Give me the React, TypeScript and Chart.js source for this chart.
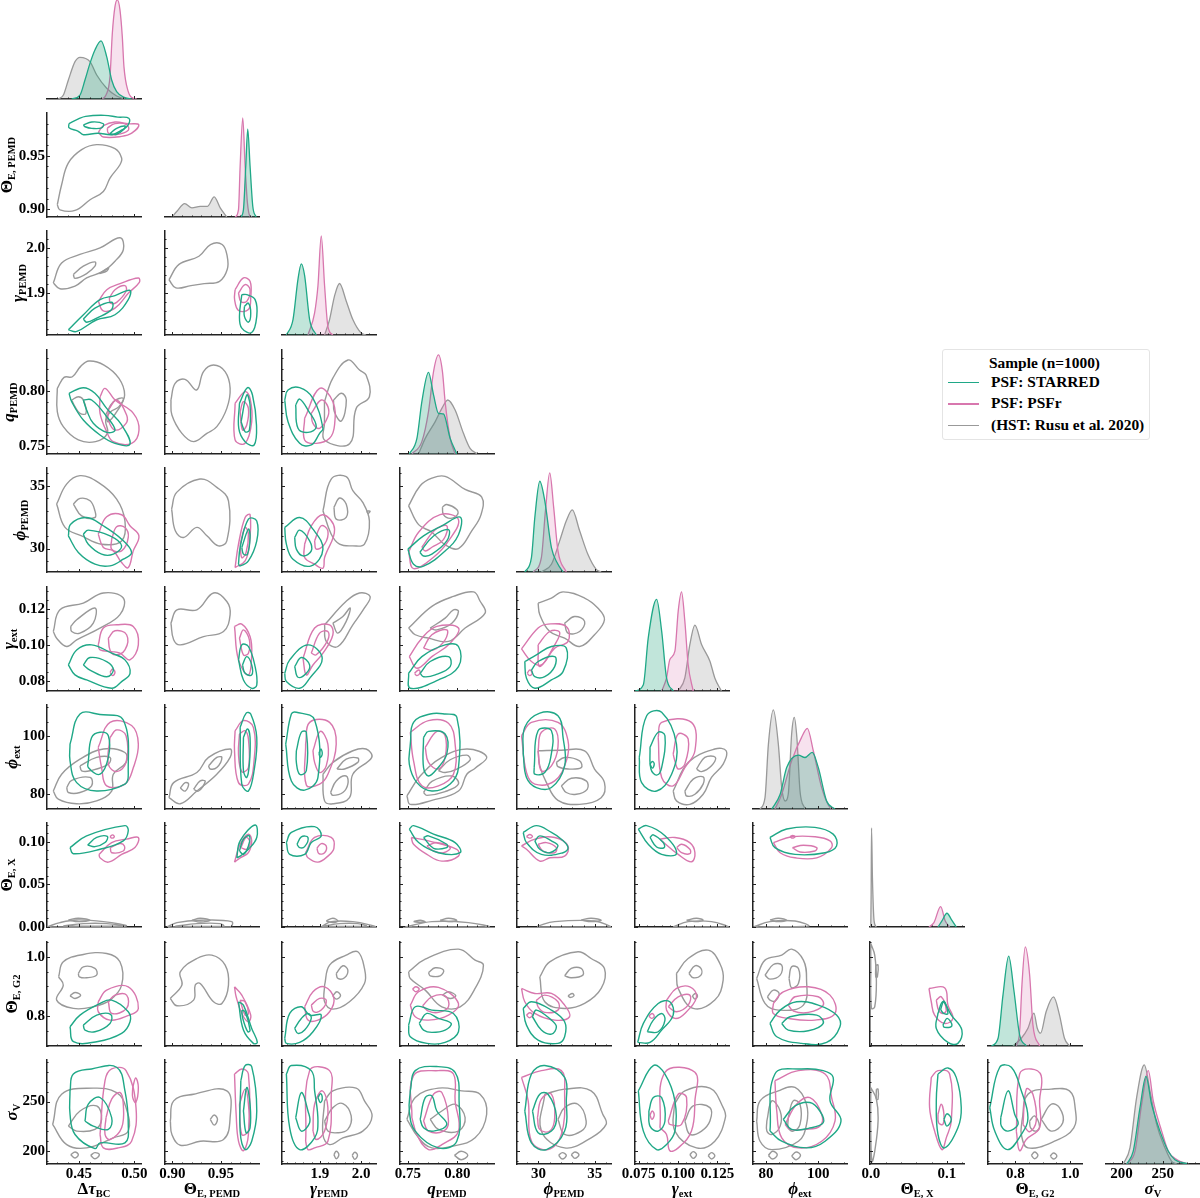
import React, { useEffect, useRef } from "react";
import { Chart, registerables } from "chart.js";

Chart.register(...registerables);

// ---- axes (one entry per variable) ----
const xMin = [0.4211, 0.8925, 1.808, 0.742, 28.1, 0.0727, 75, -0.001, 0.7004, 181];
const xMax = [0.506, 0.9892, 2.036, 0.837, 36.43, 0.1323, 111, 0.1225, 1.043, 295.5];
const yMin = [0, 0.8929, 1.8076, 0.7427, 28.13, 0.0745, 74.8, 0, 0.699, 187.2];
const yMax = [1, 0.9898, 2.038, 0.8373, 36.41, 0.132, 110.7, 0.1222, 1.05, 291.8];
const xTickLabels = [["0.45", "0.50"], ["0.90", "0.95"], ["1.9", "2.0"], ["0.75", "0.80"], ["30", "35"], ["0.075", "0.100", "0.125"], ["80", "100"], ["0.0", "0.1"], ["0.8", "1.0"], ["200", "250"]];
const yTickLabels = [[], ["0.90", "0.95"], ["1.9", "2.0"], ["0.75", "0.80"], ["30", "35"], ["0.08", "0.10", "0.12"], ["80", "100"], ["0.00", "0.05", "0.10"], ["0.8", "1.0"], ["200", "250"]];
const xMinor = [[0.43, 0.44, 0.46, 0.47, 0.48, 0.49], [0.91, 0.92, 0.93, 0.94, 0.96, 0.97, 0.98], [1.82, 1.84, 1.86, 1.88, 1.92, 1.94, 1.96, 1.98, 2.02], [0.76, 0.77, 0.78, 0.79, 0.81, 0.82, 0.83], [29, 31, 32, 33, 34, 36], [0.08, 0.085, 0.09, 0.095, 0.105, 0.11, 0.115, 0.12, 0.13], [85, 90, 95, 105, 110], [0.02, 0.04, 0.06, 0.08, 0.12], [0.75, 0.85, 0.9, 0.95], [190, 210, 220, 230, 240, 260, 270, 280, 290]];
const yMinor = [[], [0.91, 0.92, 0.93, 0.94, 0.96, 0.97, 0.98], [1.82, 1.84, 1.86, 1.88, 1.92, 1.94, 1.96, 1.98, 2.02], [0.76, 0.77, 0.78, 0.79, 0.81, 0.82, 0.83], [29, 31, 32, 33, 34, 36], [0.075, 0.085, 0.09, 0.095, 0.105, 0.11, 0.115, 0.125, 0.13], [75, 85, 90, 95, 105, 110], [0.01, 0.02, 0.03, 0.04, 0.06, 0.07, 0.08, 0.09, 0.11, 0.12], [0.7, 0.75, 0.85, 0.9, 0.95, 1.05], [190, 210, 220, 230, 240, 260, 270, 280, 290]];
const axisNames = [["Δ", "τ", "BC"], ["Θ", "", "E, PEMD"], ["", "γ", "PEMD"], ["", "q", "PEMD"], ["", "ϕ", "PEMD"], ["", "γ", "ext"], ["", "ϕ", "ext"], ["Θ", "", "E, X"], ["Θ", "", "E, G2"], ["", "σ", "V"]];
const legendTitle = "Sample (n=1000)";
const legendLabels = ["PSF: STARRED", "PSF: PSFr", "(HST: Rusu et al. 2020)"];

// ---- diagonal densities (x, relative height) ----
const d0Green = [0.4434,0, 0.4509,0.04, 0.4554,0.192, 0.4599,0.36, 0.4644,0.495, 0.4699,0.586, 0.475,0.428, 0.4795,0.192, 0.484,0.074, 0.4915,0.013, 0.4976,0];
const d0Pink = [0.4705,0, 0.4744,0.04, 0.478,0.226, 0.4801,0.663, 0.4825,0.933, 0.4846,1, 0.487,0.9, 0.4891,0.63, 0.4906,0.327, 0.4945,0.074, 0.4991,0.007, 0.5021,0];
const d0Gray = [0.4313,0, 0.4359,0.04, 0.4404,0.192, 0.4464,0.377, 0.4509,0.421, 0.4599,0.377, 0.466,0.242, 0.475,0.108, 0.484,0.03, 0.4915,0];
const d1Green = [0.9705,0, 0.9732,0.075, 0.9756,0.515, 0.9776,0.888, 0.98,0.515, 0.9828,0.108, 0.9862,0];
const d1Pink = [0.9646,0, 0.9681,0.075, 0.9698,0.515, 0.9725,1, 0.9749,0.515, 0.9773,0.142, 0.98,0.007, 0.982,0];
const d1Gray = [0.8997,0, 0.9048,0.058, 0.9127,0.136, 0.9202,0.092, 0.9287,0.108, 0.9363,0.108, 0.9431,0.203, 0.9493,0.092, 0.9561,0];
const d2Green = [1.8186,0, 1.8347,0.156, 1.8468,0.565, 1.8549,0.718, 1.8629,0.599, 1.875,0.156, 1.8911,0];
const d2Pink = [1.871,0, 1.8871,0.224, 1.8952,0.497, 1.9032,1, 1.9113,0.497, 1.9193,0.088, 1.9314,0];
const d2Gray = [1.9113,0, 1.9234,0.156, 1.9355,0.395, 1.9476,0.52, 1.9637,0.344, 1.9798,0.156, 2.0,0.02, 2.012,0];
const d3Green = [0.7513,0, 0.7591,0.158, 0.7641,0.529, 0.7708,0.825, 0.7759,0.596, 0.7809,0.411, 0.7859,0.404, 0.7927,0.158, 0.7994,0];
const d3Pink = [0.754,0, 0.7641,0.125, 0.7708,0.428, 0.7759,0.832, 0.7809,1, 0.7849,0.832, 0.7876,0.529, 0.7927,0.158, 0.7977,0];
const d3Gray = [0.7608,0, 0.7675,0.158, 0.7776,0.327, 0.7843,0.461, 0.7903,0.545, 0.7977,0.444, 0.8061,0.209, 0.8128,0.057, 0.8206,0];
const d4Green = [28.79,0, 29.38,0.145, 29.68,0.551, 30.12,0.916, 30.56,0.72, 31.15,0.247, 31.73,0.078, 32.18,0];
const d4Pink = [29.53,0, 30.26,0.145, 30.62,0.618, 31,1, 31.35,0.652, 31.73,0.213, 32.47,0];
const d4Gray = [30.26,0, 31.15,0.078, 31.88,0.314, 32.47,0.517, 33,0.628, 33.65,0.416, 34.38,0.179, 35.12,0.027, 35.56,0];
const d5Green = [0.0727,0, 0.078,0.064, 0.0811,0.537, 0.0864,0.926, 0.0896,0.605, 0.0927,0.132, 0.097,0];
const d5Pink = [0.0896,0, 0.0927,0.132, 0.0948,0.318, 0.098,0.402, 0.1001,0.807, 0.1022,1, 0.1043,0.706, 0.1064,0.267, 0.1096,0];
const d5Gray = [0.1001,0, 0.1043,0.132, 0.1075,0.47, 0.1107,0.666, 0.1149,0.47, 0.1202,0.301, 0.1233,0.132, 0.1275,0];
const d6Green = [82.2,0, 85.4,0.149, 87.9,0.419, 92.4,0.544, 94.9,0.52, 97.7,0.571, 100,0.419, 103.2,0.081, 106.4,0];
const d6Pink = [83.4,0, 86,0.149, 89.8,0.486, 93.6,0.723, 95.8,0.814, 98.1,0.588, 101.3,0.216, 104.5,0.014, 105.7,0];
const d6Gray = [77.7,0, 79.6,0.115, 80.9,0.655, 82.8,1, 84.7,0.655, 86,0.216, 87.3,0.081, 88.5,0.149, 89.8,0.757, 90.8,0.926, 91.8,0.723, 93,0.182, 94.9,0];
const d7Green = [0.0883,0, 0.0935,0.061, 0.1001,0.139, 0.1058,0.078, 0.1123,0];
const d7Pink = [0.0765,0, 0.083,0.044, 0.0918,0.206, 0.0979,0.061, 0.1036,0];
const d7Gray = [0,0, 0.0005,0.33, 0.001,1, 0.0022,0.5, 0.0044,0.06, 0.0074,0];
const d8Green = [0.7129,0, 0.7371,0.078, 0.7552,0.519, 0.7758,0.908, 0.7952,0.553, 0.8157,0.112, 0.84,0];
const d8Pink = [0.8036,0, 0.8157,0.146, 0.8242,0.62, 0.8363,1, 0.852,0.722, 0.8641,0.214, 0.8883,0];
const d8Gray = [0.7915,0, 0.8218,0.078, 0.846,0.18, 0.8678,0.332, 0.88,0.18, 0.892,0.129, 0.9125,0.349, 0.9392,0.495, 0.9608,0.315, 0.9791,0.078, 0.9972,0];
const d9Green = [206.1,0, 214.2,0.129, 222.4,0.569, 229.7,0.885, 236.6,0.603, 246.7,0.332, 256.9,0.129, 265,0.044, 281.3,0];
const d9Pink = [206.1,0, 216.3,0.129, 224.4,0.603, 232.5,0.942, 238.6,0.637, 248.8,0.332, 256.9,0.129, 267.1,0.044, 281.3,0];
const d9Gray = [202,0, 210.2,0.163, 218.3,0.671, 227.6,1, 234.6,0.739, 242.7,0.4, 252.8,0.163, 261,0.027, 267.1,0];

// ---- contours (x, y, x, y, ...), one list per closed level line ----
const r1c0Green = [[0.441,0.98, 0.449,0.984, 0.456,0.9867, 0.473,0.9876, 0.485,0.986, 0.495,0.9849, 0.494,0.978, 0.488,0.9736, 0.48,0.9696, 0.467,0.971, 0.454,0.9696, 0.449,0.973, 0.441,0.976], [0.454,0.9786, 0.4616,0.9814, 0.472,0.9798, 0.4705,0.976, 0.4616,0.9755, 0.4555,0.977], [0.478,0.9706, 0.484,0.9755, 0.4915,0.9777, 0.4906,0.9746, 0.484,0.97]];
const r1c0Pink = [[0.4675,0.9718, 0.472,0.9779, 0.4825,0.9814, 0.4945,0.9798, 0.504,0.9789, 0.4976,0.971, 0.4885,0.968, 0.472,0.9674], [0.4756,0.9758, 0.4825,0.9799, 0.493,0.979, 0.4945,0.9737, 0.484,0.9696, 0.4765,0.9711]];
const r1c0Gray = [[0.4304,0.9043, 0.4343,0.9229, 0.4403,0.9431, 0.4524,0.9556, 0.4659,0.9603, 0.4825,0.9565, 0.4885,0.9478, 0.487,0.9416, 0.478,0.9292, 0.472,0.9167, 0.46,0.909, 0.4464,0.899, 0.4328,0.8996]];
const r2c0Green = [[0.4404,1.819, 0.454,1.8525, 0.469,1.886, 0.4825,1.895, 0.496,1.9066, 0.4945,1.886, 0.4825,1.8525, 0.466,1.8414, 0.448,1.8155], [0.4539,1.843, 0.4644,1.867, 0.4795,1.88, 0.4795,1.864, 0.466,1.845, 0.457,1.836]];
const r2c0Pink = [[0.4675,1.882, 0.4751,1.908, 0.4871,1.9215, 0.5036,1.934, 0.5045,1.9244, 0.4945,1.9, 0.4825,1.867, 0.4719,1.861], [0.4774,1.8896, 0.4825,1.908, 0.4915,1.917, 0.4925,1.9044, 0.484,1.88, 0.4784,1.878]];
const r2c0Gray = [[0.4268,1.923, 0.4343,1.967, 0.4508,1.986, 0.469,2.0007, 0.4871,2.023, 0.4901,1.997, 0.4825,1.971, 0.472,1.949, 0.4569,1.934, 0.4464,1.916, 0.4328,1.91], [0.4449,1.9415, 0.4539,1.96, 0.4644,1.9696, 0.4644,1.96, 0.4569,1.9437, 0.4464,1.933], [0.4684,1.9437, 0.4765,1.956, 0.475,1.949]];
const r2c1Green = [[0.9715,1.897, 0.9766,1.897, 0.9852,1.886, 0.9869,1.849, 0.9817,1.813, 0.9715,1.823, 0.9691,1.849], [0.9742,1.871, 0.9783,1.878, 0.9807,1.856, 0.9783,1.836, 0.9742,1.849]];
const r2c1Pink = [[0.9646,1.908, 0.9732,1.934, 0.98,1.9266, 0.9807,1.89, 0.9783,1.864, 0.9681,1.862, 0.9641,1.886], [0.9681,1.9007, 0.9749,1.9192, 0.98,1.908, 0.9766,1.882, 0.9705,1.882]];
const r2c1Gray = [[0.8966,1.93, 0.9069,1.964, 0.9274,1.982, 0.9393,2.008, 0.9513,2.008, 0.9565,1.982, 0.9565,1.9526, 0.9486,1.9266, 0.9328,1.9214, 0.9192,1.917, 0.9037,1.912]];
const r3c0Green = [[0.441,0.7979, 0.4539,0.803, 0.4644,0.7979, 0.475,0.7842, 0.4885,0.7691, 0.496,0.7515, 0.4825,0.7524, 0.469,0.76, 0.4539,0.7736, 0.4434,0.7903], [0.4539,0.7918, 0.4614,0.7918, 0.475,0.7767, 0.4825,0.7645, 0.475,0.7624, 0.4629,0.7706, 0.4569,0.7827]];
const r3c0Pink = [[0.469,0.7948, 0.4735,0.8024, 0.4825,0.7918, 0.4991,0.7797, 0.5042,0.7645, 0.4975,0.7524, 0.481,0.7539, 0.475,0.763, 0.469,0.7797], [0.4765,0.7827, 0.484,0.7918, 0.493,0.7782, 0.4925,0.7706, 0.4825,0.7645, 0.4765,0.7736]];
const r3c0Gray = [[0.4304,0.8024, 0.4365,0.8124, 0.444,0.813, 0.4515,0.8224, 0.459,0.8273, 0.4726,0.8236, 0.4861,0.8115, 0.4912,0.7964, 0.4861,0.7858, 0.4786,0.7812, 0.4741,0.7736, 0.4756,0.7615, 0.465,0.754, 0.4494,0.7555, 0.4358,0.7676, 0.4304,0.7812], [0.4434,0.7918, 0.4494,0.7948, 0.4539,0.7918, 0.4563,0.7797, 0.4509,0.7797, 0.4464,0.7858], [0.4741,0.7782, 0.481,0.7903, 0.49,0.7933, 0.4861,0.7843, 0.4765,0.7721]];
const r3c1Green = [[0.9691,0.7888, 0.9774,0.803, 0.9825,0.7964, 0.9866,0.7691, 0.9842,0.7509, 0.9749,0.7539, 0.9684,0.766], [0.9708,0.7721, 0.9766,0.7964, 0.98,0.7873, 0.9793,0.7645, 0.9749,0.763]];
const r3c1Pink = [[0.9646,0.7888, 0.9749,0.7994, 0.98,0.7933, 0.9817,0.7721, 0.9749,0.7524, 0.9646,0.7555], [0.9698,0.7812, 0.9732,0.7903, 0.9783,0.7842, 0.9766,0.7691, 0.9722,0.7645]];
const r3c1Gray = [[0.8986,0.7918, 0.9029,0.807, 0.9131,0.8106, 0.925,0.8009, 0.9321,0.8176, 0.9424,0.8236, 0.9543,0.8176, 0.9595,0.8024, 0.9561,0.7842, 0.9458,0.7676, 0.9356,0.7615, 0.9219,0.754, 0.9099,0.7615, 0.8996,0.7782]];
const r3c2Green = [[1.8146,0.7918, 1.8226,0.8009, 1.8508,0.803, 1.8831,0.7933, 1.9073,0.7661, 1.8992,0.7615, 1.879,0.7509, 1.8508,0.7524, 1.8226,0.7721], [1.8412,0.7873, 1.8508,0.7927, 1.871,0.7827, 1.8911,0.7676, 1.871,0.7624, 1.8468,0.7661]];
const r3c2Pink = [[1.8629,0.7752, 1.8992,0.8024, 1.9314,0.7903, 1.9355,0.7691, 1.9234,0.757, 1.8911,0.7524, 1.8629,0.7555], [1.879,0.7797, 1.9032,0.7918, 1.9193,0.7858, 1.9193,0.7767, 1.8992,0.7661, 1.8831,0.7706]];
const r3c2Gray = [[1.911,0.7903, 1.931,0.8115, 1.968,0.8282, 1.996,0.8191, 2.012,0.8145, 2.02,0.7948, 1.988,0.7842, 1.972,0.7521, 1.911,0.7555, 1.911,0.7706], [1.933,0.7918, 1.952,0.7979, 1.964,0.7918, 1.952,0.7727, 1.935,0.7812]];
const r4c0Green = [[0.4404,31.0, 0.4425,31.94, 0.4569,32.47, 0.4719,31.81, 0.4885,30.74, 0.4975,29.68, 0.49,29.15, 0.478,28.62, 0.4644,28.75, 0.4494,29.68], [0.4539,31.14, 0.4584,31.46, 0.478,31.0, 0.4885,30.21, 0.481,29.55, 0.4704,29.55, 0.4584,30.34]];
const r4c0Pink = [[0.4674,31.14, 0.475,32.53, 0.4885,32.69, 0.496,31.81, 0.5041,31.01, 0.499,29.81, 0.4945,28.48, 0.4885,28.88, 0.481,29.81, 0.472,30.08], [0.4795,30.74, 0.484,31.73, 0.4915,31.67, 0.4945,30.88, 0.4885,29.81, 0.4795,29.95]];
const r4c0Gray = [[0.4298,33.54, 0.4388,35.13, 0.4509,35.8, 0.4674,35.27, 0.484,33.94, 0.4915,32.2, 0.4885,30.6, 0.4704,30.34, 0.4524,31.0, 0.4374,31.68], [0.4449,33.54, 0.4509,33.99, 0.46,33.8, 0.4644,33.0, 0.4644,32.47, 0.4524,32.6]];
const r4c1Green = [[0.9681,28.75, 0.9698,30.08, 0.9783,32.34, 0.9869,32.2, 0.9869,30.61, 0.9783,29.01, 0.9698,28.62], [0.9715,30.08, 0.9783,31.54, 0.98,30.88, 0.9773,29.55, 0.9732,29.55]];
const r4c1Pink = [[0.9646,28.48, 0.9681,30.35, 0.9749,32.47, 0.98,32.69, 0.9793,30.34, 0.9749,29.01], [0.9698,30.34, 0.9749,31.67, 0.9783,31.14, 0.9759,29.68, 0.9715,29.28]];
const r4c1Gray = [[0.8993,33.14, 0.9045,34.47, 0.9284,35.53, 0.9458,34.87, 0.9578,33.8, 0.9561,30.61, 0.9475,30.21, 0.9356,31.01, 0.9253,31.68, 0.9116,30.88, 0.9031,31.41]];
const r4c2Green = [[1.8146,31.68, 1.8508,32.47, 1.8831,31.54, 1.9073,29.95, 1.879,28.62, 1.8347,29.15, 1.8186,30.35], [1.8387,30.88, 1.8508,31.46, 1.875,30.61, 1.879,29.81, 1.8589,29.41, 1.8428,29.95]];
const r4c2Pink = [[1.8629,30.34, 1.879,31.81, 1.9073,32.69, 1.9355,31.54, 1.9113,29.28, 1.9073,28.43, 1.8871,28.75, 1.8629,29.28], [1.8871,30.61, 1.9032,31.81, 1.9193,31.41, 1.9113,30.34, 1.8911,29.95]];
const r4c2Gray = [[1.9073,33.0, 1.9274,35.53, 1.9637,35.72, 1.9798,34.6, 2.0039,33.67, 2.02,32.2, 2.008,30.35, 1.9798,30.21, 1.9476,30.35, 1.9274,31.14], [1.9339,33.27, 1.9476,34.02, 1.9637,33.54, 1.9637,32.47, 1.9395,32.34], [2.0136,32.97, 2.0217,32.98, 2.0169,32.8]];
const r4c3Green = [[0.75,29.95, 0.7658,31, 0.7843,31.8, 0.8028,32.5, 0.8011,31.1, 0.7876,29.8, 0.7658,28.6, 0.7557,28.75], [0.7621,29.7, 0.7759,31, 0.791,31.5, 0.7893,30.6, 0.7742,29.55, 0.7658,29.4]];
const r4c3Pink = [[0.7507,29.7, 0.7608,31.3, 0.7826,32.7, 0.8011,32.3, 0.791,30.6, 0.7759,29.3, 0.7557,28.4], [0.7641,30.1, 0.7776,31.5, 0.7893,31.8, 0.7859,30.7, 0.7742,30.1, 0.7675,29.8]];
const r4c3Gray = [[0.7507,33.4, 0.7624,35, 0.7742,35.6, 0.7876,35.74, 0.8078,34.7, 0.8246,34.1, 0.8239,32.7, 0.8145,31.4, 0.8011,30, 0.7876,30.3, 0.7742,31.3, 0.7608,31.9], [0.7849,33.3, 0.7893,33.5, 0.7994,33.1, 0.8001,32.7, 0.7927,32.4, 0.7859,32.7]];
const r5c0Green = [[0.4404,0.0889, 0.4479,0.0972, 0.4614,0.1, 0.4795,0.0954, 0.4915,0.0917, 0.4961,0.0843, 0.4885,0.0797, 0.4795,0.076, 0.4569,0.0806, 0.4464,0.0834], [0.4539,0.0889, 0.4599,0.093, 0.475,0.0908, 0.481,0.0861, 0.475,0.0824, 0.4599,0.0861]];
const r5c0Pink = [[0.4674,0.1, 0.472,0.1093, 0.484,0.1111, 0.499,0.1102, 0.5036,0.1, 0.496,0.0917, 0.487,0.0954, 0.4795,0.0963, 0.469,0.0972], [0.4765,0.1037, 0.4825,0.1078, 0.493,0.1056, 0.4915,0.0972, 0.4825,0.0945, 0.478,0.0972], [0.478,0.0848, 0.4804,0.0867, 0.4825,0.0848, 0.4804,0.083]];
const r5c0Gray = [[0.4268,0.1074, 0.4328,0.1194, 0.4539,0.1231, 0.472,0.1287, 0.49,0.1259, 0.487,0.1167, 0.4689,0.1093, 0.4479,0.1028, 0.4389,0.0991, 0.4298,0.1037], [0.4425,0.1102, 0.4479,0.1139, 0.4644,0.1204, 0.4629,0.112, 0.4509,0.1065, 0.4434,0.1074]];
const r5c1Green = [[0.9681,0.0917, 0.9715,0.1, 0.9783,0.0991, 0.9852,0.088, 0.9869,0.0778, 0.9817,0.076, 0.9732,0.0806], [0.9722,0.0889, 0.9766,0.0935, 0.9817,0.0889, 0.9817,0.0834, 0.9749,0.0843]];
const r5c1Pink = [[0.964,0.1102, 0.9715,0.1115, 0.98,0.1046, 0.9817,0.0945, 0.9783,0.0834, 0.9681,0.0917], [0.9691,0.1037, 0.9732,0.1083, 0.9793,0.1028, 0.9783,0.0954, 0.9732,0.0945]];
const r5c1Gray = [[0.8986,0.112, 0.9048,0.1194, 0.9253,0.1194, 0.9424,0.1287, 0.9561,0.124, 0.9595,0.1167, 0.9527,0.1074, 0.9321,0.1046, 0.9082,0.1, 0.9014,0.1028]];
const r5c2Green = [[1.8146,0.0843, 1.8267,0.0917, 1.871,0.1, 1.9056,0.0926, 1.875,0.0815, 1.8508,0.076, 1.8186,0.0797], [1.8387,0.088, 1.8548,0.093, 1.875,0.0889, 1.867,0.0843, 1.8468,0.0821]];
const r5c2Pink = [[1.8589,0.0926, 1.8871,0.1093, 1.9234,0.1111, 1.9314,0.1056, 1.9073,0.0954, 1.8831,0.0889, 1.867,0.0834], [1.879,0.0954, 1.8992,0.1065, 1.9193,0.1074, 1.9193,0.1028, 1.8911,0.0945]];
const r5c2Gray = [[1.9113,0.1111, 1.9637,0.1241, 1.9959,0.1287, 2.0217,0.1268, 2.008,0.1204, 1.9798,0.1111, 1.9435,0.0991, 1.9153,0.1019], [1.9314,0.112, 1.9556,0.1157, 1.9733,0.1204, 1.9637,0.113, 1.9435,0.1065]];
const r5c3Green = [[0.7507,0.0843, 0.7641,0.0935, 0.7876,0.1, 0.8011,0.0991, 0.8011,0.088, 0.7809,0.0806, 0.7524,0.076], [0.7624,0.0843, 0.7725,0.0908, 0.791,0.0935, 0.7927,0.088, 0.7776,0.0834, 0.7658,0.0824]];
const r5c3Pink = [[0.7514,0.0935, 0.7641,0.1037, 0.7792,0.1102, 0.8011,0.1093, 0.7927,0.1009, 0.7742,0.0935, 0.7591,0.0871], [0.7658,0.0982, 0.7742,0.1056, 0.7893,0.1083, 0.7876,0.1028, 0.7759,0.0972], [0.7567,0.0843, 0.7608,0.0861, 0.7624,0.0848, 0.7591,0.083]];
const r5c3Gray = [[0.7507,0.1093, 0.7742,0.1213, 0.796,0.1268, 0.8163,0.1293, 0.823,0.1241, 0.828,0.1176, 0.8078,0.1093, 0.791,0.1019, 0.7708,0.1037, 0.7574,0.1056], [0.7725,0.1093, 0.7876,0.1148, 0.796,0.1194, 0.8011,0.1185, 0.7944,0.112, 0.7792,0.1083]];
const r5c4Green = [[28.79,0.0908, 29.82,0.0945, 31.15,0.0991, 32.47,0.0982, 32.18,0.0852, 31.15,0.0806, 29.68,0.076, 28.94,0.0815], [29.38,0.0861, 29.97,0.0908, 31.44,0.0935, 31.44,0.088, 30.56,0.0824, 29.68,0.0824]];
const r5c4Pink = [[28.5,0.0978, 29.97,0.1093, 30.85,0.1115, 32.47,0.1102, 32.62,0.1019, 31.44,0.0982, 30.26,0.0889, 29.38,0.0908], [29.97,0.1, 31,0.1074, 31.88,0.107, 31.44,0.1, 30.12,0.088], [29,0.0843, 29.24,0.0861, 29.44,0.0843, 29.24,0.083]];
const r5c4Gray = [[29.97,0.1231, 31.15,0.1259, 32.18,0.1293, 34.09,0.1259, 35.26,0.1204, 35.85,0.1139, 34.97,0.1056, 33.65,0.0991, 32.32,0.1037, 31,0.1074, 30.12,0.1167], [32.32,0.112, 33.2,0.1157, 34.09,0.113, 33.65,0.1074, 32.62,0.1065]];
const r6c0Green = [[0.4419,97.2, 0.4509,107.6, 0.4689,107.4, 0.49,105.5, 0.4945,86.8, 0.4915,83.4, 0.4659,81, 0.4479,83.9, 0.4419,91.4], [0.4584,91.4, 0.4614,99.5, 0.469,101.3, 0.4765,100.1, 0.4765,92.6, 0.469,86.8, 0.4584,89.1]];
const r6c0Pink = [[0.4674,96.1, 0.478,104.7, 0.4975,103.6, 0.5036,97.2, 0.4991,89.1, 0.4915,83.4, 0.475,82.8, 0.4704,89.1], [0.478,99.5, 0.484,102.1, 0.4925,100.1, 0.4925,90.9, 0.484,87.7, 0.4765,90.3]];
const r6c0Gray = [[0.4268,81, 0.4343,86.8, 0.4509,92, 0.472,95.5, 0.4915,94.3, 0.4925,90.9, 0.481,86.8, 0.4795,81, 0.4659,77.6, 0.4479,76.6, 0.4313,78.2], [0.4389,82.2, 0.4434,84.7, 0.46,85.7, 0.4614,82.8, 0.4509,80.5, 0.4404,80.5], [0.4509,89.7, 0.4659,92.6, 0.478,92.6, 0.4765,90.3, 0.4599,88, 0.4524,88]];
const r6c1Green = [[0.9698,103, 0.976,107.9, 0.9807,107.6, 0.9869,99.5, 0.9841,88, 0.9783,81, 0.9715,83.4], [0.9732,99.5, 0.9773,102.4, 0.98,99.5, 0.9793,90.3, 0.9766,85.7, 0.9732,88]];
const r6c1Pink = [[0.9646,101.8, 0.9732,105.3, 0.9834,103, 0.9841,91.4, 0.9783,83.4, 0.9681,83.9, 0.964,94.9], [0.9691,100.7, 0.9749,101.8, 0.9783,99, 0.9783,89.1, 0.9715,87.7, 0.9681,93.8]];
const r6c1Gray = [[0.8966,78.7, 0.9014,83.9, 0.9253,87.4, 0.9373,92.6, 0.9595,95.5, 0.9595,92.6, 0.9458,86.8, 0.9253,81, 0.9082,76.6], [0.9082,82, 0.9133,83.9, 0.9168,83.4, 0.9133,81], [0.9219,81.6, 0.9287,84.5, 0.9339,84.3, 0.927,81], [0.9373,89.7, 0.9458,92.6, 0.951,92.6, 0.9458,89.1, 0.939,88.6]];
const r6c2Green = [[1.817,97.2, 1.8307,107.6, 1.8428,108.2, 1.8871,105.5, 1.8952,85.7, 1.8629,81.3, 1.8307,84.5], [1.8428,94.9, 1.8549,101.3, 1.867,101.3, 1.867,88, 1.8508,86.8, 1.8428,90.9], [1.8976,94, 1.9024,95.5, 1.9056,93.8, 1.9008,92.6]];
const r6c2Pink = [[1.8653,97.2, 1.875,104.7, 1.9234,104.7, 1.9395,97.2, 1.9193,86.8, 1.8992,83.4, 1.867,83.1], [1.8831,94.9, 1.9008,101.6, 1.9193,97.2, 1.9153,89.7, 1.8992,87.4, 1.8871,90.9]];
const r6c2Gray = [[1.9073,86.8, 1.9314,90.9, 1.9798,94.9, 2.012,95.5, 2.0257,92.6, 1.9798,86.8, 1.9717,78.7, 1.9314,76.6, 1.9113,77.6], [1.9411,88.6, 1.9637,92, 1.9919,92.4, 1.9919,90.9, 1.9596,88.6], [1.9258,80.5, 1.9395,84.5, 1.9637,86.2, 1.9677,83.4, 1.9556,80.5, 1.9314,79.5]];
const r6c3Green = [[0.7524,97.2, 0.7557,104.7, 0.7725,107.6, 0.7876,107.6, 0.7994,106.5, 0.8011,89.1, 0.7927,83.4, 0.7742,81, 0.7591,83.9, 0.7514,90.3], [0.7658,99.5, 0.7708,101.6, 0.7876,100.7, 0.7893,93.8, 0.7792,88.6, 0.7708,86.2, 0.7658,89.1]];
const r6c3Pink = [[0.7524,101.3, 0.7708,105.3, 0.791,104.4, 0.7977,97.2, 0.796,86.8, 0.7809,82.8, 0.7641,82.8, 0.7557,91.4], [0.7675,96.1, 0.7792,101.6, 0.7876,100.1, 0.7876,92.6, 0.7809,88.6, 0.7708,90.9]];
const r6c3Gray = [[0.749,79.3, 0.7624,86.2, 0.7843,92.6, 0.8095,95.5, 0.8296,92.8, 0.8179,88.9, 0.8095,86.8, 0.8011,81, 0.7742,77.8, 0.7524,76.4], [0.7809,88, 0.7927,91.8, 0.8095,93.4, 0.8128,91.7, 0.7994,88.6, 0.7876,87.4], [0.7658,80.5, 0.7742,84.3, 0.7944,86.2, 0.8011,83.4, 0.7876,80.8, 0.7692,79.5]];
const r6c4Green = [[28.65,93.8, 28.79,103, 30.12,107.9, 31.73,107, 32.18,99.5, 32.32,89.7, 31.15,82.2, 29.82,82.2, 28.94,85.7], [29.62,89.1, 29.97,101.8, 31.15,101.8, 31.09,92.6, 30.56,87.4, 29.68,86.8]];
const r6c4Pink = [[28.5,100.1, 29.38,104.7, 31.73,104.7, 32.62,98.4, 32.47,91.4, 31.44,84.5, 29.68,83.4, 28.94,87.4], [29.97,94.9, 30.26,101.3, 31.44,102.4, 31.73,96.1, 31.15,89.7, 30.26,88]];
const r6c4Gray = [[29.97,94.9, 32.03,95.1, 34.09,94.9, 34.97,88.6, 35.85,83.9, 35.56,78.7, 33.65,76.4, 31.73,77.8, 30.71,83.9, 30.12,89.7], [31.59,90.9, 32.32,92.6, 33.65,91.4, 33.79,89.1, 32.62,88.6, 31.73,89.4], [32.03,82.8, 32.91,85.4, 34.23,84.5, 34.32,81.6, 33.35,79.9, 32.47,80.5]];
const r6c5Green = [[0.0754,92.6, 0.0801,107, 0.0896,108.2, 0.099,97.2, 0.0959,86.8, 0.0864,81, 0.0769,83.9], [0.0822,96.1, 0.0874,101.3, 0.0917,100.1, 0.0896,89.1, 0.0864,86.5, 0.0828,88.6], [0.0822,90.3, 0.0837,91.2, 0.0849,90.3, 0.0837,88.9]];
const r6c5Pink = [[0.0874,99.5, 0.0896,104.7, 0.1085,104.7, 0.1107,94.9, 0.1043,89.1, 0.0969,82.8, 0.0896,85.7], [0.0969,93.8, 0.1001,100.7, 0.1064,99, 0.1043,90.3, 0.1001,88.6, 0.098,91.4]];
const r6c5Gray = [[0.0969,81, 0.1065,90.9, 0.1233,95.5, 0.1305,94.9, 0.1286,90.3, 0.1212,85.7, 0.1159,79.9, 0.1075,76.4, 0.099,77.6], [0.1117,88.6, 0.117,92.6, 0.1237,92.6, 0.1212,89.7, 0.1149,87.7], [0.1043,81, 0.1096,85.1, 0.1159,85.9, 0.1159,83.4, 0.1107,79.9, 0.1054,79.3]];
const r7c0Green = [[0.4419,0.0933, 0.4569,0.1071, 0.4915,0.1191, 0.4945,0.1131, 0.49,0.1012, 0.469,0.0913, 0.4449,0.0861], [0.4578,0.0964, 0.466,0.1052, 0.4756,0.1064, 0.4735,0.0992, 0.4644,0.0944]];
const r7c0Pink = [[0.4681,0.0853, 0.4795,0.0992, 0.493,0.1032, 0.5036,0.1052, 0.5005,0.0933, 0.4885,0.0853, 0.4765,0.0762, 0.469,0.0813], [0.4783,0.0933, 0.487,0.098, 0.491,0.0952, 0.49,0.0893, 0.4795,0.0873], [0.478,0.1064, 0.4804,0.1083, 0.4819,0.106, 0.4795,0.1044]];
const r7c0Gray = [[0.421,0, 0.4328,0.0052, 0.4479,0.0083, 0.472,0.0063, 0.4925,0.0012, 0.4509,0.0002, 0.4238,0.0001], [0.4404,0.0083, 0.4494,0.0103, 0.4599,0.0079, 0.4494,0.0063], [0.4358,0.0012, 0.4539,0.004, 0.475,0.004, 0.49,0.0012]];
const r7c1Green = [[0.9663,0.0813, 0.9698,0.1012, 0.9852,0.1199, 0.9869,0.1052, 0.9783,0.0913, 0.9698,0.0833], [0.9691,0.0893, 0.9732,0.1032, 0.9793,0.1071, 0.9783,0.0952, 0.9732,0.0853]];
const r7c1Pink = [[0.964,0.0762, 0.9698,0.0972, 0.9783,0.1091, 0.9817,0.1012, 0.9783,0.0873, 0.9698,0.0813], [0.9705,0.0933, 0.976,0.1052, 0.98,0.0992, 0.9766,0.0913]];
const r7c1Gray = [[0.8945,0, 0.9048,0.0052, 0.9287,0.0079, 0.9612,0.0063, 0.9595,0], [0.9202,0.0079, 0.9287,0.0103, 0.939,0.0079, 0.9287,0.0059], [0.9031,0.001, 0.9253,0.004, 0.9492,0.004, 0.9527,0.001]];
const r7c2Green = [[1.8186,0.0992, 1.8307,0.1111, 1.8871,0.1179, 1.9032,0.1071, 1.879,0.0992, 1.8629,0.0853, 1.8267,0.0853], [1.8444,0.0972, 1.8549,0.106, 1.871,0.1052, 1.8629,0.0944, 1.8508,0.0933]];
const r7c2Pink = [[1.8653,0.0873, 1.8871,0.1052, 1.9274,0.1052, 1.9339,0.0925, 1.9193,0.0833, 1.8952,0.0762, 1.871,0.0813], [1.8927,0.0925, 1.9032,0.098, 1.9153,0.0952, 1.9113,0.0873, 1.8976,0.0861]];
const r7c2Gray = [[1.9032,0, 1.9274,0.0063, 1.9798,0.0063, 2.0322,0.001, 2.0347,0], [1.9153,0.0071, 1.9314,0.0103, 1.9435,0.0071, 1.9314,0.0052], [1.9073,0.001, 1.9476,0.004, 1.9919,0.004, 2.012,0.001]];
const r7c3Green = [[0.7514,0.1151, 0.7557,0.1191, 0.7759,0.1091, 0.7977,0.0992, 0.8028,0.0873, 0.7809,0.0873, 0.7608,0.0992], [0.7658,0.1052, 0.7708,0.1071, 0.7893,0.0972, 0.7893,0.0933, 0.7759,0.0925]];
const r7c3Pink = [[0.7534,0.1052, 0.7708,0.1012, 0.7994,0.0913, 0.8011,0.0833, 0.7843,0.0774, 0.7692,0.0853, 0.7557,0.0972], [0.7692,0.0952, 0.7792,0.0992, 0.7927,0.0933, 0.786,0.0873, 0.7759,0.0893]];
const r7c3Gray = [[0.7473,0, 0.7742,0.0063, 0.8112,0.0052, 0.8313,0], [0.7826,0.0079, 0.791,0.0103, 0.7994,0.0079, 0.791,0.0063], [0.7557,0.0063, 0.7624,0.0079, 0.7675,0.0063, 0.7624,0.0055]];
const r7c4Green = [[28.65,0.1111, 29.82,0.1191, 31.15,0.1111, 32.03,0.1032, 32.62,0.0933, 32.18,0.0873, 30.26,0.0853, 28.94,0.0992], [29.68,0.1012, 30.12,0.1071, 31.15,0.1012, 31.73,0.0952, 31,0.0873, 30.12,0.0913]];
const r7c4Pink = [[28.5,0.0952, 29.68,0.1032, 31.44,0.1052, 32.62,0.0952, 32.32,0.0833, 31,0.0813, 30.12,0.0774, 28.94,0.0913], [29.97,0.0972, 30.71,0.0992, 31.59,0.0933, 31.44,0.0873, 30.41,0.0893], [28.94,0.1063, 29.24,0.1087, 29.47,0.1063, 29.21,0.1044]];
const r7c4Gray = [[29.91,0.001, 31.44,0.0063, 34.97,0.0071, 36.43,0, 29.97,0], [33.79,0.0083, 34.67,0.0103, 35.56,0.0079, 34.67,0.0063]];
const r7c5Green = [[0.0748,0.1151, 0.0801,0.1191, 0.0917,0.1071, 0.099,0.0861, 0.0896,0.0853, 0.0811,0.0972], [0.0822,0.1052, 0.0843,0.1083, 0.0906,0.0992, 0.0912,0.0933, 0.0864,0.094]];
const r7c5Pink = [[0.0885,0.1032, 0.098,0.1052, 0.1074,0.0992, 0.1107,0.0873, 0.1085,0.0766, 0.1001,0.0853], [0.0991,0.0933, 0.1022,0.0972, 0.1075,0.0913, 0.1075,0.0861, 0.1022,0.0873]];
const r7c5Gray = [[0.0969,0, 0.1064,0.0063, 0.1212,0.0063, 0.1318,0], [0.1054,0.0079, 0.1117,0.0103, 0.1159,0.0079, 0.1107,0.0063]];
const r7c6Green = [[81.5,0.1052, 87.9,0.1151, 98.7,0.1171, 105.7,0.1091, 107,0.0952, 102.6,0.0873, 91.1,0.0853, 83.4,0.0933]];
const r7c6Pink = [[82.8,0.0992, 89.8,0.106, 98.7,0.106, 104.5,0.1012, 105.1,0.0933, 99.4,0.0813, 91.1,0.0813, 85.4,0.0873], [90.1,0.0933, 94.3,0.096, 99.4,0.0933, 98.7,0.0893, 93,0.0881], [89.2,0.106, 90.2,0.1075, 91.1,0.106, 90.1,0.1044]];
const r7c6Gray = [[75.2,0, 81.5,0.0063, 91.1,0.0071, 96.2,0.001, 75.8,0], [81.5,0.0083, 84.7,0.0103, 87.9,0.0079, 84.7,0.0063]];
const r8c0Green = [[0.4419,0.764, 0.4509,0.8033, 0.469,0.8426, 0.4795,0.8539, 0.4945,0.8146, 0.4961,0.7808, 0.4885,0.7415, 0.466,0.7134, 0.445,0.7134], [0.4539,0.7696, 0.466,0.8033, 0.4786,0.8056, 0.478,0.7752, 0.4644,0.7471, 0.4554,0.7527]];
const r8c0Pink = [[0.4674,0.8483, 0.475,0.8876, 0.4945,0.8988, 0.5036,0.8258, 0.493,0.8, 0.478,0.7864, 0.4674,0.8146], [0.4765,0.8483, 0.4825,0.8707, 0.493,0.8707, 0.493,0.8258, 0.4795,0.8089]];
const r8c0Gray = [[0.4316,0.9326, 0.4358,0.9831, 0.4539,1.0079, 0.475,1.0112, 0.487,0.9831, 0.4885,0.9045, 0.478,0.8539, 0.4629,0.8314, 0.4449,0.8258, 0.4298,0.8539, 0.4358,0.9045], [0.4494,0.9438, 0.4539,0.9663, 0.4644,0.9607, 0.4659,0.9382, 0.4569,0.9292, 0.4503,0.9326], [0.4419,0.8685, 0.4464,0.8797, 0.4515,0.8707, 0.4464,0.8595]];
const r8c1Green = [[0.9681,0.8483, 0.9732,0.837, 0.9817,0.7583, 0.9875,0.7111, 0.9834,0.7078, 0.9732,0.7527], [0.9715,0.8202, 0.9749,0.8146, 0.98,0.7527, 0.9776,0.7471, 0.9725,0.7921]];
const r8c1Pink = [[0.964,0.8988, 0.9715,0.8707, 0.9807,0.8033, 0.9783,0.7808, 0.9715,0.8089, 0.9657,0.8651], [0.9698,0.8539, 0.9749,0.8483, 0.9783,0.8089, 0.9749,0.8033]];
const r8c1Gray = [[0.8979,0.8595, 0.9099,0.9045, 0.9082,0.9494, 0.9253,0.9943, 0.9407,1.0056, 0.9544,0.9719, 0.9578,0.9045, 0.951,0.8426, 0.9424,0.8483, 0.9287,0.9101, 0.9236,0.9045, 0.9219,0.8539, 0.9048,0.8348]];
const r8c2Green = [[1.8146,0.7246, 1.8267,0.8089, 1.8549,0.8314, 1.875,0.8033, 1.9032,0.8033, 1.8831,0.7471, 1.8508,0.7111, 1.8186,0.7078], [1.8387,0.7584, 1.8549,0.7921, 1.871,0.8089, 1.879,0.7921, 1.8629,0.7527, 1.8468,0.7415]];
const r8c2Pink = [[1.8629,0.8314, 1.8831,0.882, 1.9113,0.8988, 1.9339,0.8595, 1.9234,0.8146, 1.8952,0.7864, 1.871,0.7864], [1.879,0.837, 1.8992,0.8595, 1.9153,0.8539, 1.9032,0.8202, 1.8847,0.8146]];
const r8c2Gray = [[1.9113,0.9045, 1.9234,0.9719, 1.9637,1.0056, 1.9919,1.0169, 2.008,0.9607, 2.008,0.9101, 1.9717,0.8483, 1.9314,0.8235, 1.9113,0.8483], [1.9395,0.9438, 1.9556,0.9697, 1.9677,0.955, 1.9596,0.9292, 1.9435,0.9269], [1.9314,0.8685, 1.9411,0.882, 1.95,0.8685, 1.9395,0.8573]];
const r8c3Green = [[0.7507,0.7696, 0.7574,0.8314, 0.7742,0.8202, 0.796,0.8089, 0.8011,0.7471, 0.7876,0.7111, 0.7692,0.7078, 0.7524,0.7302], [0.7614,0.7752, 0.7692,0.8089, 0.7809,0.7921, 0.7937,0.7752, 0.7876,0.7527, 0.7742,0.7449, 0.7658,0.7527]];
const r8c3Pink = [[0.7524,0.837, 0.7608,0.882, 0.7809,0.8966, 0.8011,0.8426, 0.791,0.8033, 0.7708,0.7864, 0.7574,0.7977], [0.7648,0.8348, 0.7742,0.8651, 0.7876,0.8685, 0.791,0.8314, 0.7809,0.8123, 0.7708,0.8168], [0.7547,0.891, 0.7581,0.8988, 0.7614,0.891, 0.7581,0.882]];
const r8c3Gray = [[0.7507,0.9494, 0.7675,0.9921, 0.8011,1.0259, 0.8179,0.9888, 0.8263,0.9719, 0.8179,0.8932, 0.8028,0.8314, 0.7843,0.8314, 0.7675,0.8876, 0.7524,0.9269], [0.7708,0.9472, 0.7776,0.9629, 0.786,0.955, 0.7826,0.9359, 0.7725,0.9359], [0.7849,0.8707, 0.791,0.882, 0.7984,0.8685, 0.7927,0.8595]];
const r8c4Green = [[28.65,0.8258, 29.38,0.8483, 31.15,0.8202, 32.32,0.7808, 32.32,0.7302, 31.73,0.7078, 29.97,0.719, 28.94,0.7696], [29.47,0.7977, 29.82,0.8202, 31.15,0.7864, 31.59,0.764, 31.15,0.7392, 30.26,0.7527]];
const r8c4Pink = [[28.5,0.8932, 29.68,0.8764, 31.15,0.8764, 32.32,0.837, 32.76,0.7977, 31.44,0.7864, 29.68,0.8089, 28.79,0.8483], [29.82,0.8539, 30.56,0.8707, 31.73,0.8483, 31.73,0.8202, 30.56,0.8123, 29.97,0.8314], [28.94,0.8033, 29.24,0.8112, 29.47,0.8033, 29.21,0.7943]];
const r8c4Gray = [[30.12,0.9326, 31,0.9831, 33.5,1.0169, 34.67,0.9943, 35.85,0.9607, 35.56,0.8932, 34.09,0.8426, 32.32,0.8258, 30.56,0.8483], [32.32,0.9359, 32.91,0.9607, 33.79,0.9607, 33.94,0.9382, 32.91,0.9292], [32.62,0.8685, 33,0.8764, 33.15,0.8685, 32.8,0.8629]];
const r8c5Green = [[0.0744,0.7111, 0.078,0.7752, 0.0874,0.8426, 0.0948,0.8483, 0.0969,0.8033, 0.0896,0.7527, 0.0822,0.7111], [0.0805,0.7471, 0.0843,0.7864, 0.0896,0.8089, 0.0917,0.7864, 0.0874,0.7471]];
const r8c5Pink = [[0.0927,0.8539, 0.099,0.8932, 0.1075,0.8988, 0.1117,0.8651, 0.1043,0.8089, 0.098,0.7921, 0.0927,0.8202], [0.0938,0.8314, 0.1001,0.8651, 0.1075,0.8707, 0.1064,0.837, 0.099,0.8146], [0.0815,0.8, 0.0836,0.8089, 0.0849,0.7989, 0.0832,0.7921]];
const r8c5Gray = [[0.099,0.9438, 0.1064,0.9944, 0.1191,1.0225, 0.1265,0.9775, 0.1286,0.9214, 0.1233,0.8539, 0.1096,0.8258, 0.1001,0.8932], [0.1069,0.9438, 0.1107,0.9697, 0.1145,0.9607, 0.1145,0.9382, 0.1096,0.9292], [0.109,0.8685, 0.1111,0.8764, 0.1123,0.8674, 0.1107,0.8573]];
const r8c6Green = [[81.5,0.7752, 85.4,0.8202, 91.7,0.8483, 100,0.837, 107,0.8033, 108.3,0.764, 103.2,0.7111, 93.6,0.7078, 84.1,0.7302], [86,0.7752, 89.2,0.7977, 99.4,0.8033, 101.9,0.7752, 96.2,0.7505, 88.5,0.7527]];
const r8c6Pink = [[82.8,0.8426, 86.6,0.882, 96.2,0.8988, 104.5,0.8707, 106.4,0.8089, 98.7,0.7864, 88.5,0.7921, 82.8,0.8089], [88.5,0.837, 91.1,0.8651, 100,0.8651, 101.9,0.837, 96.2,0.8123, 90.5,0.8168]];
const r8c6Gray = [[76.4,0.9269, 79.6,0.9888, 86,1.0056, 89.8,1.0259, 94.3,0.9888, 95.5,0.9269, 94.3,0.837, 84.7,0.8202, 79.6,0.8426], [79.6,0.9382, 82.8,0.9741, 86,0.9719, 85.4,0.9382, 81.5,0.9247], [88.8,0.9269, 89.8,0.9663, 92.4,0.9607, 92.4,0.9101, 89.8,0.8955], [80.5,0.8651, 82.8,0.8876, 85,0.8763, 83.4,0.8505, 81.5,0.8539]];
const r8c7Green = [[0.0883,0.8089, 0.0948,0.8483, 0.1058,0.8033, 0.1197,0.7527, 0.1145,0.7078, 0.1014,0.7111, 0.0861,0.7584], [0.0948,0.7696, 0.1005,0.7921, 0.1066,0.7674, 0.097,0.7617], [0.0918,0.8224, 0.0961,0.8505, 0.1014,0.8089, 0.0957,0.8089]];
const r8c7Pink = [[0.0765,0.8932, 0.097,0.8955, 0.1014,0.837, 0.1079,0.7921, 0.097,0.7752, 0.0839,0.8033, 0.0795,0.8483], [0.0861,0.8539, 0.0926,0.8651, 0.0992,0.8202, 0.0948,0.8089, 0.0891,0.8202]];
const r8c7Gray = [[0,1.045, 0.0052,1.0056, 0.0074,0.9157, 0.0052,0.8314, 0.0009,0.8258, 0,0.9663], [0.0066,0.9719, 0.0096,0.9719, 0.0087,0.9326, 0.0066,0.9326]];
const r9c0Green = [[0.4419,260.8, 0.4449,277.7, 0.4614,282.8, 0.484,284.5, 0.4915,260.8, 0.4945,227, 0.4915,208.4, 0.469,208.4, 0.4644,202.7, 0.4464,216.9, 0.4419,237.2], [0.4554,230.4, 0.4584,247.3, 0.469,254.1, 0.4795,233.8, 0.4765,222, 0.4629,225.3]];
const r9c0Pink = [[0.469,216.9, 0.4735,271, 0.4795,282.8, 0.4925,281.1, 0.5015,243.9, 0.4975,210.1, 0.4855,203.4, 0.472,203.4], [0.4744,233.8, 0.4795,252.4, 0.487,259.1, 0.49,247.3, 0.4885,223.6, 0.478,211.8, 0.4735,216.9], [0.4985,264.2, 0.5012,273.7, 0.5036,264.2, 0.5012,249, 0.4985,254.1]];
const r9c0Gray = [[0.4262,227, 0.4343,257.4, 0.4629,263.5, 0.484,259, 0.4925,243.9, 0.4945,220.3, 0.481,213.5, 0.4569,203.4, 0.4389,206.7], [0.4404,225.3, 0.4509,240.5, 0.4659,245.6, 0.4704,232.1, 0.4644,222, 0.4479,220.3], [0.4425,196.6, 0.4464,199.3, 0.4494,196.6, 0.4464,193.2], [0.4605,195.9, 0.4644,198.6, 0.4684,196.6, 0.4644,192.5]];
const r9c1Green = [[0.9705,271, 0.9749,286.2, 0.9817,285.2, 0.9869,240.5, 0.9817,210.1, 0.9749,201.7, 0.9698,220.3], [0.9732,240.5, 0.9766,264.2, 0.98,247.3, 0.98,223.6, 0.9759,218.6]];
const r9c1Pink = [[0.964,277.7, 0.9715,282.8, 0.9783,277.7, 0.9783,216.9, 0.9732,200.6, 0.9681,210.1, 0.9657,237.2], [0.9691,247.3, 0.9749,262.5, 0.9783,247.3, 0.9783,220.3, 0.9715,216.9]];
const r9c1Gray = [[0.898,230.4, 0.9014,250.7, 0.9219,257.4, 0.9561,260.8, 0.9595,233.8, 0.9527,211.8, 0.9287,210.1, 0.9082,206.1, 0.8996,216.9], [0.939,232.1, 0.9431,236.5, 0.9465,232.1, 0.9431,226.3]];
const r9c2Green = [[1.8186,277.7, 1.8307,286.2, 1.879,281.1, 1.8871,260.8, 1.8952,230.4, 1.8871,213.5, 1.8508,201.7, 1.8267,223.6], [1.8412,233.8, 1.8549,259.1, 1.871,240.5, 1.875,228.7, 1.8549,220.3], [1.8952,254.1, 1.9016,258, 1.9056,252.4, 1.9008,249]];
const r9c2Pink = [[1.8653,210.1, 1.875,281.1, 1.9234,281.1, 1.9274,257.4, 1.9193,210.1, 1.8871,203.4, 1.871,201.7], [1.8831,220.3, 1.8871,247.3, 1.9056,260.8, 1.9193,243.9, 1.9113,220.3, 1.8911,211.8]];
const r9c2Gray = [[1.9113,250.7, 1.9314,260.8, 1.9879,263.5, 2.008,250.7, 2.0265,235.5, 2.0039,220.3, 1.9556,213.5, 1.9234,206.7, 1.9073,216.9], [1.9113,230.4, 1.9314,243.9, 1.9556,248, 1.9758,235.5, 1.9677,222, 1.9435,218.6, 1.9193,220.3], [1.9339,196.6, 1.9395,200, 1.9459,196.6, 1.9395,192.5], [1.9782,195.9, 1.9846,199, 1.9911,195.9, 1.9846,191.9]];
const r9c3Green = [[0.7524,260.8, 0.7574,281.1, 0.7792,285.2, 0.7977,279.4, 0.8017,250.7, 0.7994,210.1, 0.7809,203.4, 0.7574,220.3, 0.7514,240.5], [0.7624,232.1, 0.7675,254, 0.7742,255.7, 0.7792,240.5, 0.7893,227, 0.7759,220.3, 0.7658,223.6]];
const r9c3Pink = [[0.754,233.8, 0.7557,276, 0.7809,281.1, 0.796,277.7, 0.7977,250.7, 0.8011,220.3, 0.7843,206.7, 0.7708,201.7, 0.7591,216.9], [0.7658,230.4, 0.7759,257.4, 0.7843,259.1, 0.791,230.4, 0.786,220.3, 0.7708,220.3]];
const r9c3Gray = [[0.749,232.1, 0.7574,254.1, 0.7809,263.5, 0.8044,260.8, 0.8229,257.4, 0.8296,237.2, 0.8179,213.5, 0.7943,205, 0.7742,203.4, 0.7608,213.5], [0.7725,232.1, 0.7843,240.5, 0.7977,247.3, 0.8078,233.8, 0.8011,220.3, 0.7809,222], [0.797,195.9, 0.8038,200, 0.8105,195.9, 0.8038,191.5]];
const r9c4Green = [[28.79,240.5, 29.38,277.7, 30.56,286.2, 32.32,274.3, 32.47,250.7, 32.32,220.3, 30.71,201.7, 29.38,208.4], [29.47,240.5, 30.12,257.4, 30.85,257.4, 31.59,235.5, 31.15,220.3, 29.97,218.6]];
const r9c4Pink = [[28.5,274.3, 30.26,281.1, 32.03,281.1, 32.32,260.8, 32.03,216.9, 30.85,201.7, 29.38,210.1, 29.09,250.7], [29.91,233.8, 30.26,252.4, 31.15,257.4, 31.44,233.8, 31,220.3, 30.12,222]];
const r9c4Gray = [[30.56,257.4, 32.32,262.5, 34.67,260.8, 35.7,237.2, 36,227, 34.67,213.5, 32.32,203.4, 30.26,220.3], [31.73,232.1, 32.32,243.9, 33.5,247.3, 34.23,230.4, 33.79,220.3, 32.32,216.9], [31.79,195.9, 32.12,198.6, 32.47,195.9, 32.12,192.2], [32.91,196.6, 33.23,199.3, 33.59,196.6, 33.23,192.9]];
const r9c5Green = [[0.0748,260.8, 0.0843,286.2, 0.0917,277.7, 0.098,250.7, 0.098,220.3, 0.0927,206.7, 0.0864,201.7, 0.078,220.3], [0.0815,240.5, 0.0843,254, 0.0896,254, 0.0917,230.4, 0.0874,220.3, 0.0822,225.3]];
const r9c5Pink = [[0.0885,223.6, 0.0917,279.4, 0.1107,279.4, 0.1107,250.7, 0.1085,220.3, 0.1001,203.4, 0.0948,200.6, 0.0927,216.9], [0.0938,230.4, 0.1001,257.4, 0.1054,254, 0.1022,227, 0.0948,227], [0.0822,236.5, 0.0836,240.5, 0.0849,236.5, 0.0834,232.1]];
const r9c5Gray = [[0.0976,247.3, 0.1043,260.8, 0.1202,263.5, 0.1286,243.9, 0.13,233.8, 0.1233,210.1, 0.1117,203.4, 0.098,220.3], [0.1043,230.4, 0.1096,245.6, 0.1202,243.9, 0.1202,230.4, 0.1149,220.3, 0.1075,216.9], [0.1075,196.6, 0.1096,199.6, 0.1117,196.6, 0.1096,192.9], [0.1191,195.6, 0.1212,198.6, 0.1233,195.6, 0.1212,192.2]];
const r9c6Green = [[81.5,220.3, 83.4,277.7, 93.6,282.8, 101.9,281.1, 105.7,274.3, 104.5,250.7, 108.7,230.4, 102.6,210.1, 95.5,203.4, 86,210.1], [86.6,232.1, 91.1,245.6, 96.8,249, 100.6,240.5, 101.9,228.7, 96.2,223, 89.8,222]];
const r9c6Pink = [[83.4,271, 92.4,281.1, 102.6,277.7, 105.1,254, 106.4,230.4, 101.3,210.1, 92.4,203.4, 86,213.5, 84.1,240.5], [87.3,227, 91.7,247.3, 96.8,254, 101.3,237.2, 100.6,225.3, 94.9,222, 89.2,222]];
const r9c6Gray = [[76.4,230.4, 77.7,250.7, 84.7,260.8, 91.1,264.2, 95.5,247.3, 95.5,227, 92.4,210.1, 82.2,201.7, 77.7,210.1], [80.3,230.4, 82.2,250.7, 85.4,240.5, 85.4,225.3, 82.2,216.9, 80.3,220.3], [88.5,233.8, 90.4,250.7, 93,247.3, 93,227, 90.4,220.3, 88.5,223.6], [80.9,195.9, 82.5,200, 84.3,196.6, 82.5,192.2], [89.8,195.2, 91.5,199.3, 93.2,195.9, 91.5,191.5]];
const r9c7Green = [[0.0883,277.7, 0.1014,283.8, 0.1123,274.3, 0.1189,243.9, 0.1145,223.6, 0.097,203.4, 0.0883,216.9, 0.0861,250.7], [0.0961,232.1, 0.1001,237.8, 0.1058,232.1, 0.1001,225.3]];
const r9c7Pink = [[0.0795,274.3, 0.0883,281.1, 0.1036,277.7, 0.1058,230.4, 0.0992,213.5, 0.0935,201.7, 0.0839,220.3, 0.0773,243.9], [0.0883,237.2, 0.0926,247.3, 0.0961,237.2, 0.0948,227, 0.0891,228.7]];
const r9c7Gray = [[0,264.2, 0.0074,252.4, 0.0096,230.4, 0.0052,200, 0.0017,189.8, 0,216.9], [0.0074,262.5, 0.0096,262.5, 0.0096,252.4, 0.0074,252.4]];
const r9c8Green = [[0.7068,243.9, 0.7431,284.5, 0.7855,284.5, 0.8218,260.8, 0.846,233.8, 0.8218,216.9, 0.771,201.7, 0.725,220.3], [0.7468,233.8, 0.7734,260.8, 0.7976,237.2, 0.8097,227, 0.7734,220.3, 0.7492,225.3]];
const r9c8Pink = [[0.8036,220.3, 0.8157,277.7, 0.8581,282.8, 0.8944,276, 0.8883,250.7, 0.8883,223.6, 0.84,211.8, 0.8157,200.6], [0.8278,227, 0.84,262.5, 0.8641,257.4, 0.8762,230.4, 0.852,219.6]];
const r9c8Gray = [[0.8242,230.4, 0.846,257.4, 0.9307,262.5, 0.9973,260.8, 1.0179,243.9, 1.013,223.6, 0.9428,210.1, 0.846,203.4, 0.8218,216.9], [0.8944,232.1, 0.9307,247.3, 0.9609,243.9, 0.973,228.7, 0.9307,220.3], [0.852,230.4, 0.8702,235.5, 0.8883,225.3, 0.8762,220.3, 0.8557,223.6], [0.8581,195.9, 0.8702,199.3, 0.8823,195.9, 0.8702,192.5], [0.9271,195.2, 0.9392,198.3, 0.9513,195.2, 0.9392,192.2]];

const diagonal = [
  [d0Green, d0Pink, d0Gray], [d1Green, d1Pink, d1Gray], [d2Green, d2Pink, d2Gray], [d3Green, d3Pink, d3Gray], [d4Green, d4Pink, d4Gray],
  [d5Green, d5Pink, d5Gray], [d6Green, d6Pink, d6Gray], [d7Green, d7Pink, d7Gray], [d8Green, d8Pink, d8Gray], [d9Green, d9Pink, d9Gray],
];
const lower: any[][][] = [
  [],
  [[r1c0Green, r1c0Pink, r1c0Gray]],
  [[r2c0Green, r2c0Pink, r2c0Gray], [r2c1Green, r2c1Pink, r2c1Gray]],
  [[r3c0Green, r3c0Pink, r3c0Gray], [r3c1Green, r3c1Pink, r3c1Gray], [r3c2Green, r3c2Pink, r3c2Gray]],
  [[r4c0Green, r4c0Pink, r4c0Gray], [r4c1Green, r4c1Pink, r4c1Gray], [r4c2Green, r4c2Pink, r4c2Gray], [r4c3Green, r4c3Pink, r4c3Gray]],
  [[r5c0Green, r5c0Pink, r5c0Gray], [r5c1Green, r5c1Pink, r5c1Gray], [r5c2Green, r5c2Pink, r5c2Gray], [r5c3Green, r5c3Pink, r5c3Gray], [r5c4Green, r5c4Pink, r5c4Gray]],
  [[r6c0Green, r6c0Pink, r6c0Gray], [r6c1Green, r6c1Pink, r6c1Gray], [r6c2Green, r6c2Pink, r6c2Gray], [r6c3Green, r6c3Pink, r6c3Gray], [r6c4Green, r6c4Pink, r6c4Gray], [r6c5Green, r6c5Pink, r6c5Gray]],
  [[r7c0Green, r7c0Pink, r7c0Gray], [r7c1Green, r7c1Pink, r7c1Gray], [r7c2Green, r7c2Pink, r7c2Gray], [r7c3Green, r7c3Pink, r7c3Gray], [r7c4Green, r7c4Pink, r7c4Gray], [r7c5Green, r7c5Pink, r7c5Gray], [r7c6Green, r7c6Pink, r7c6Gray]],
  [[r8c0Green, r8c0Pink, r8c0Gray], [r8c1Green, r8c1Pink, r8c1Gray], [r8c2Green, r8c2Pink, r8c2Gray], [r8c3Green, r8c3Pink, r8c3Gray], [r8c4Green, r8c4Pink, r8c4Gray], [r8c5Green, r8c5Pink, r8c5Gray], [r8c6Green, r8c6Pink, r8c6Gray], [r8c7Green, r8c7Pink, r8c7Gray]],
  [[r9c0Green, r9c0Pink, r9c0Gray], [r9c1Green, r9c1Pink, r9c1Gray], [r9c2Green, r9c2Pink, r9c2Gray], [r9c3Green, r9c3Pink, r9c3Gray], [r9c4Green, r9c4Pink, r9c4Gray], [r9c5Green, r9c5Pink, r9c5Gray], [r9c6Green, r9c6Pink, r9c6Gray], [r9c7Green, r9c7Pink, r9c7Gray], [r9c8Green, r9c8Pink, r9c8Gray]],
];

// ---- layout and style ----
const colLeft = [47, 165, 282, 400, 517, 635, 753, 870, 988, 1106];
const rowBottom = [99, 217, 335, 454, 572, 691, 809, 927, 1046, 1164];
const PW = 94;
const PH = 104;
const SERIF = '"Liberation Serif"';
const lineColors = ["#1fa887", "#d877ae", "#999999"];
const fillColors = ["rgba(27,158,119,0.27)", "rgba(214,110,170,0.2)", "rgba(130,130,130,0.22)"];
const yLabelX = [0, 8, 19, 10, 21, 10, 13, 8, 13, 13];
const legendLineTop = [32, 53.3, 75];

const pts = (flat: number[], close: boolean) => {
  const out: { x: number; y: number }[] = [];
  for (let i = 0; i < flat.length; i += 2) out.push({ x: flat[i], y: flat[i + 1] });
  if (close) out.push({ x: flat[0], y: flat[1] });
  return out;
};

const innerTicks = {
  id: "innerTicks",
  afterDraw(chart: any) {
    const { ctx, chartArea, scales } = chart;
    ctx.save();
    ctx.strokeStyle = "#222";
    ctx.lineWidth = 1;
    for (const t of scales.x.ticks) {
      const p = Math.round(scales.x.getPixelForValue(t.value)) + 0.5;
      const len = t.label ? 3 : 1.5;
      ctx.beginPath();
      ctx.moveTo(p, chartArea.bottom);
      ctx.lineTo(p, chartArea.bottom - len);
      ctx.stroke();
    }
    if (scales.y.options.border.display) {
      for (const t of scales.y.ticks) {
        const p = Math.round(scales.y.getPixelForValue(t.value)) + 0.5;
        const len = t.label ? 3 : 1.5;
        ctx.beginPath();
        ctx.moveTo(chartArea.left, p);
        ctx.lineTo(chartArea.left + len, p);
        ctx.stroke();
      }
    }
    ctx.restore();
  },
};

function axisOptions(min: number, max: number, labels: string[], minor: number[], showLabels: boolean, showLine: boolean, isX: boolean, size: number) {
  const named = new Map(labels.map((l) => [Number(l), l]));
  const values = [...labels.map(Number), ...minor].sort((a, b) => a - b);
  return {
    type: "linear",
    min,
    max,
    grid: { display: false, drawTicks: false },
    border: { display: showLine, color: "#222", width: 1.5 },
    afterBuildTicks(s: any) {
      s.ticks = values.map((value) => ({ value }));
    },
    afterFit(s: any) {
      if (isX) s.height = size;
      else s.width = size;
      s.paddingTop = 0;
      s.paddingBottom = 0;
      s.paddingLeft = 0;
      s.paddingRight = 0;
    },
    ticks: {
      display: showLabels,
      autoSkip: false,
      maxRotation: 0,
      minRotation: 0,
      padding: isX ? 1 : 2,
      color: "#000",
      font: { family: SERIF, weight: "bold", size: 15 },
      callback: (v: number) => named.get(v) ?? "",
    },
  };
}

function Panel({ row, col }: { row: number; col: number }) {
  const ref = useRef<HTMLCanvasElement | null>(null);
  const isDiag = row === col;
  const ML = col === 0 ? 47 : 14;
  const MR = 14;
  const MT = 10;
  const MB = row === 9 ? 22 : 10;
  const W = ML + PW + MR;
  const H = MT + PH + MB;
  useEffect(() => {
    const sets: any[] = [];
    if (isDiag) {
      diagonal[row].forEach((flat, i) => {
        sets.push({ data: pts(flat, false), borderColor: lineColors[i], backgroundColor: fillColors[i], borderWidth: 1.3, fill: "origin", cubicInterpolationMode: "monotone", showLine: true, pointRadius: 0 });
      });
    } else {
      lower[row][col].forEach((group: number[][], i: number) => {
        group.forEach((flat) => {
          sets.push({ data: pts(flat, true), borderColor: lineColors[i], borderWidth: 1.4, fill: false, tension: 0.4, showLine: true, pointRadius: 0 });
        });
      });
    }
    const chart = new Chart(ref.current as HTMLCanvasElement, {
      type: "scatter",
      data: { datasets: sets },
      plugins: [innerTicks],
      options: {
        animation: false,
        responsive: false,
        devicePixelRatio: 1,
        layout: { padding: { left: 0, top: MT, right: MR, bottom: 0 } },
        plugins: { legend: { display: false }, tooltip: { enabled: false } },
        scales: {
          x: axisOptions(xMin[col], xMax[col], xTickLabels[col], xMinor[col], row === 9, true, true, MB),
          y: isDiag
            ? axisOptions(0, 1.05, [], [], false, false, false, ML)
            : axisOptions(yMin[row], yMax[row], yTickLabels[row], yMinor[row], col === 0, true, false, ML),
        },
      } as any,
    } as any);
    return () => chart.destroy();
  }, []);
  return (
    <canvas
      ref={ref}
      width={W}
      height={H}
      style={{ position: "absolute", left: colLeft[col] - ML, top: rowBottom[row] - PH - MT, width: W, height: H }}
    />
  );
}

function AxisName({ i, style }: { i: number; style: React.CSSProperties }) {
  const [plain, italic, sub] = axisNames[i];
  return (
    <div style={{ position: "absolute", font: `bold 17px ${SERIF}`, lineHeight: "18px", whiteSpace: "nowrap", color: "#000", ...style }}>
      {plain}
      {italic ? <i>{italic}</i> : null}
      <span style={{ fontSize: 10.5, position: "relative", top: 3 }}>{sub}</span>
    </div>
  );
}

export default function App() {
  const cells: [number, number][] = [];
  for (let r = 0; r < 10; r++) for (let c = 0; c <= r; c++) cells.push([r, c]);
  return (
    <div style={{ position: "absolute", left: 0, top: 0, width: 1200, height: 1198, overflow: "hidden", background: "#fff" }}>
      {cells.map(([r, c]) => (
        <Panel key={`${r}-${c}`} row={r} col={c} />
      ))}
      {axisNames.map((_, i) => (
        <AxisName key={`x${i}`} i={i} style={{ left: colLeft[i] + PW / 2, top: 1190, transform: "translate(-50%,-50%)" }} />
      ))}
      {axisNames.map((_, i) =>
        i === 0 ? null : (
          <AxisName key={`y${i}`} i={i} style={{ left: yLabelX[i], top: rowBottom[i] - PH / 2, transform: "translate(-50%,-50%) rotate(-90deg)" }} />
        ),
      )}
      <div style={{ position: "absolute", left: 942, top: 349, width: 206, height: 89, border: "1px solid #e4e4e4", borderRadius: 3, background: "#fff", font: `bold 15.4px ${SERIF}`, color: "#000" }}>
        <div style={{ position: "absolute", left: 46, top: 3.7, lineHeight: "18px", whiteSpace: "nowrap" }}>{legendTitle}</div>
        {legendLabels.map((t, i) => (
          <div key={t}>
            <div style={{ position: "absolute", left: 4.5, top: legendLineTop[i], width: 31, height: 1.3, background: lineColors[i] }} />
            <div style={{ position: "absolute", left: 48, top: legendLineTop[i] - 9, lineHeight: "18px", whiteSpace: "nowrap" }}>{t}</div>
          </div>
        ))}
      </div>
    </div>
  );
}
